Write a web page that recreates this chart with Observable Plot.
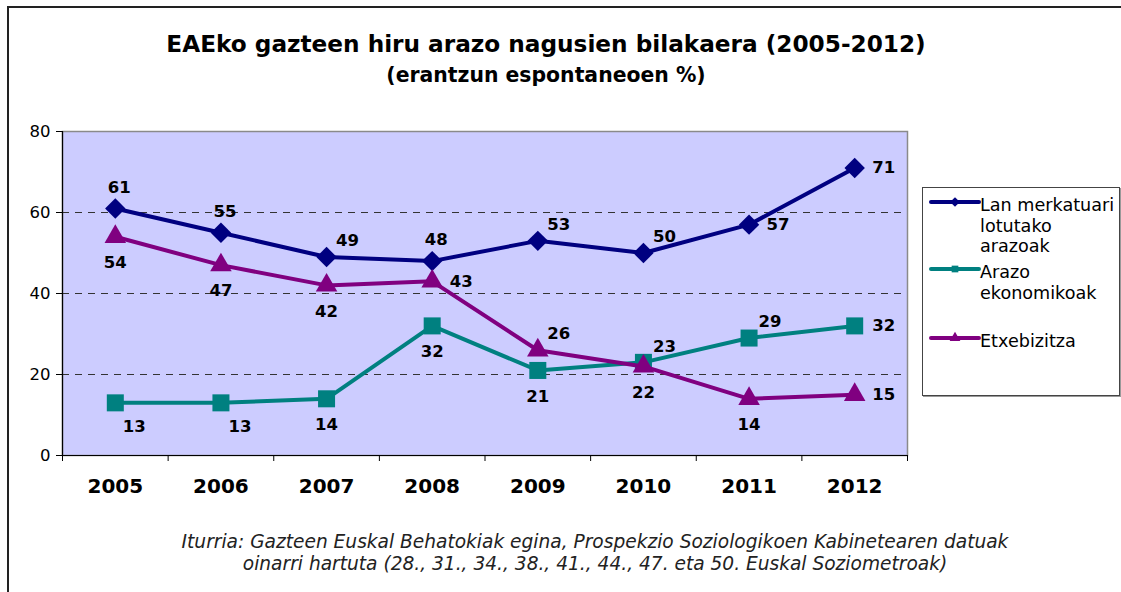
<!DOCTYPE html>
<html><head><meta charset="utf-8">
<script src="https://cdn.jsdelivr.net/npm/d3@7"></script>
<script src="https://cdn.jsdelivr.net/npm/@observablehq/plot@0.6"></script>
<style>
body{margin:0;background:#fff;}
#wrap{position:relative;width:1121px;height:592px;overflow:hidden;font-family:"DejaVu Sans",Verdana,sans-serif;background:#fff;}
#frame{position:absolute;left:7px;top:6px;width:1300px;height:800px;border:2px solid #222;box-sizing:border-box;}
#chart{position:absolute;left:0;top:0;}
.title{position:absolute;left:0;width:1092px;text-align:center;font-weight:bold;color:#000;white-space:nowrap;}
#legend{position:absolute;left:922px;top:187px;width:198px;height:209px;border:1px solid #444;box-shadow:1px 1px 0 #999;background:#fff;box-sizing:border-box;}
.lg{position:absolute;font-size:17.6px;line-height:20.5px;color:#000;white-space:nowrap;}
.sw{position:absolute;}
.cap{position:absolute;left:0;width:1190px;text-align:center;font-style:italic;font-size:18.6px;color:#222;white-space:nowrap;}
</style></head>
<body>
<div id="wrap">
  <div id="frame"></div>
  <div id="chart"></div>
  <div class="title" style="top:30px;font-size:23.2px;">EAEko gazteen hiru arazo nagusien bilakaera (2005-2012)</div>
  <div class="title" style="top:63px;font-size:20.4px;">(erantzun espontaneoen %)</div>
  <div id="legend"></div>
  <div class="cap" style="top:531px;">Iturria: Gazteen Euskal Behatokiak egina, Prospekzio Soziologikoen Kabinetearen datuak</div>
  <div class="cap" style="top:553px;">oinarri hartuta (28., 31., 34., 38., 41., 44., 47. eta 50. Euskal Soziometroak)</div>
</div>
<script>
// ---- data ----
const years = [2005, 2006, 2007, 2008, 2009, 2010, 2011, 2012];
const seriesNames = ["Lan merkatuari lotutako arazoak", "Arazo ekonomikoak", "Etxebizitza"];
const lanMerkatua = [61, 55, 49, 48, 53, 50, 57, 71];
const arazoEkonomikoak = [13, 13, 14, 32, 21, 23, 29, 32];
const etxebizitza = [54, 47, 42, 43, 26, 22, 14, 15];
const yTicks = [0, 20, 40, 60, 80];

// ---- styling ----
const colors = ["#000080", "#008080", "#800080"];
const symbols = ["diamond2", "square", "triangle"];
const symbolR = [9.2, 9.6, 8.0];
const labelPlacement = [
  ["n", "n", "ne", "n", "ne", "ne", "e", "e"],
  ["se", "se", "s", "s", "s", "ne", "ne", "e"],
  ["s", "s", "s", "e", "ne", "s", "s", "e"]
];
const placeOffsets = {n: [4, -21], ne: [21, -16], e: [29, 0], s: [0, 26], se: [19, 24]};

const valueArrays = [lanMerkatua, arazoEkonomikoak, etxebizitza];
const rows = [];
valueArrays.forEach((vals, s) => vals.forEach((v, i) => {
  const [dx, dy] = placeOffsets[labelPlacement[s][i]];
  rows.push({series: seriesNames[s], s, year: years[i], value: v, dx, dy});
}));
const bounds = years.map(y => y - 0.5).concat([years[years.length - 1] + 0.5]);

const marks = [
  Plot.frame({fill: "#ccccff", stroke: "#8a8a8a", strokeWidth: 1.5}),
  Plot.ruleY([20, 40, 60], {stroke: "#333", strokeDasharray: "7,6", strokeWidth: 1}),
  Plot.ruleY([0], {stroke: "#000", strokeWidth: 1.2}),
  Plot.ruleX([bounds[0]], {stroke: "#000", strokeWidth: 1.2}),
  Plot.axisY({ticks: yTicks, tickSize: 6, tickPadding: 6, fontSize: 16.5, label: null, stroke: "#000", color: "#000"}),
  Plot.axisX({ticks: bounds, tickSize: 6, tickFormat: () => "", label: null, stroke: "#000"}),
  Plot.axisX({ticks: years, tickSize: 0, tickPadding: 23, tickFormat: d => String(d), fontSize: 20, fontWeight: "bold", label: null, color: "#000"})
];
[0, 1, 2].forEach(s => {
  const data = rows.filter(r => r.s === s);
  marks.push(Plot.lineY(data, {x: "year", y: "value", stroke: colors[s], strokeWidth: 4}));
  marks.push(Plot.dot(data, {x: "year", y: "value", symbol: () => symbols[s], r: symbolR[s], fill: colors[s], stroke: "none"}));
});
[0, 1, 2].forEach(s => {
  rows.filter(r => r.s === s).forEach(r => {
    marks.push(Plot.text([r], {x: "year", y: "value", text: d => String(d.value), dx: r.dx, dy: r.dy, fontSize: 16.5, fontWeight: "bold", fill: "#000", style: {letterSpacing: "0.5px"}}));
  });
});

const chart = Plot.plot({
  width: 1121, height: 592,
  marginLeft: 62, marginRight: 214, marginTop: 131, marginBottom: 137,
  x: {type: "linear", domain: [bounds[0], bounds[bounds.length - 1]]},
  y: {type: "linear", domain: [0, 80]},
  symbol: {type: "identity"},
  style: {fontFamily: "'DejaVu Sans', Verdana, sans-serif", background: "transparent", overflow: "visible"},
  marks
});
document.getElementById("chart").appendChild(chart);

// ---- legend ----
const legend = document.getElementById("legend");
const legendLines = [["Lan merkatuari", "lotutako", "arazoak"], ["Arazo", "ekonomikoak"], ["Etxebizitza"]];
const legendTop = [6, 73, 142];
const legendSym = [d3.symbolDiamond2, d3.symbolSquare, d3.symbolTriangle];
const legendSize = [60, 45, 50];
legendLines.forEach((lines, s) => {
  const svg = d3.create("svg").attr("class", "sw").attr("width", 52).attr("height", 20)
    .style("left", "6px").style("top", (legendTop[s] - 1) + "px");
  svg.append("line").attr("x1", 2).attr("x2", 50).attr("y1", 9).attr("y2", 9)
    .attr("stroke", colors[s]).attr("stroke-width", 4).attr("stroke-linecap", "round");
  svg.append("path").attr("transform", "translate(26,9)")
    .attr("d", d3.symbol(legendSym[s], legendSize[s])()).attr("fill", colors[s]);
  legend.appendChild(svg.node());
  const div = document.createElement("div");
  div.className = "lg";
  div.style.left = "57px";
  div.style.top = (legendTop[s] + 1) + "px";
  div.innerHTML = lines.join("<br>");
  legend.appendChild(div);
});
</script>
</body></html>
